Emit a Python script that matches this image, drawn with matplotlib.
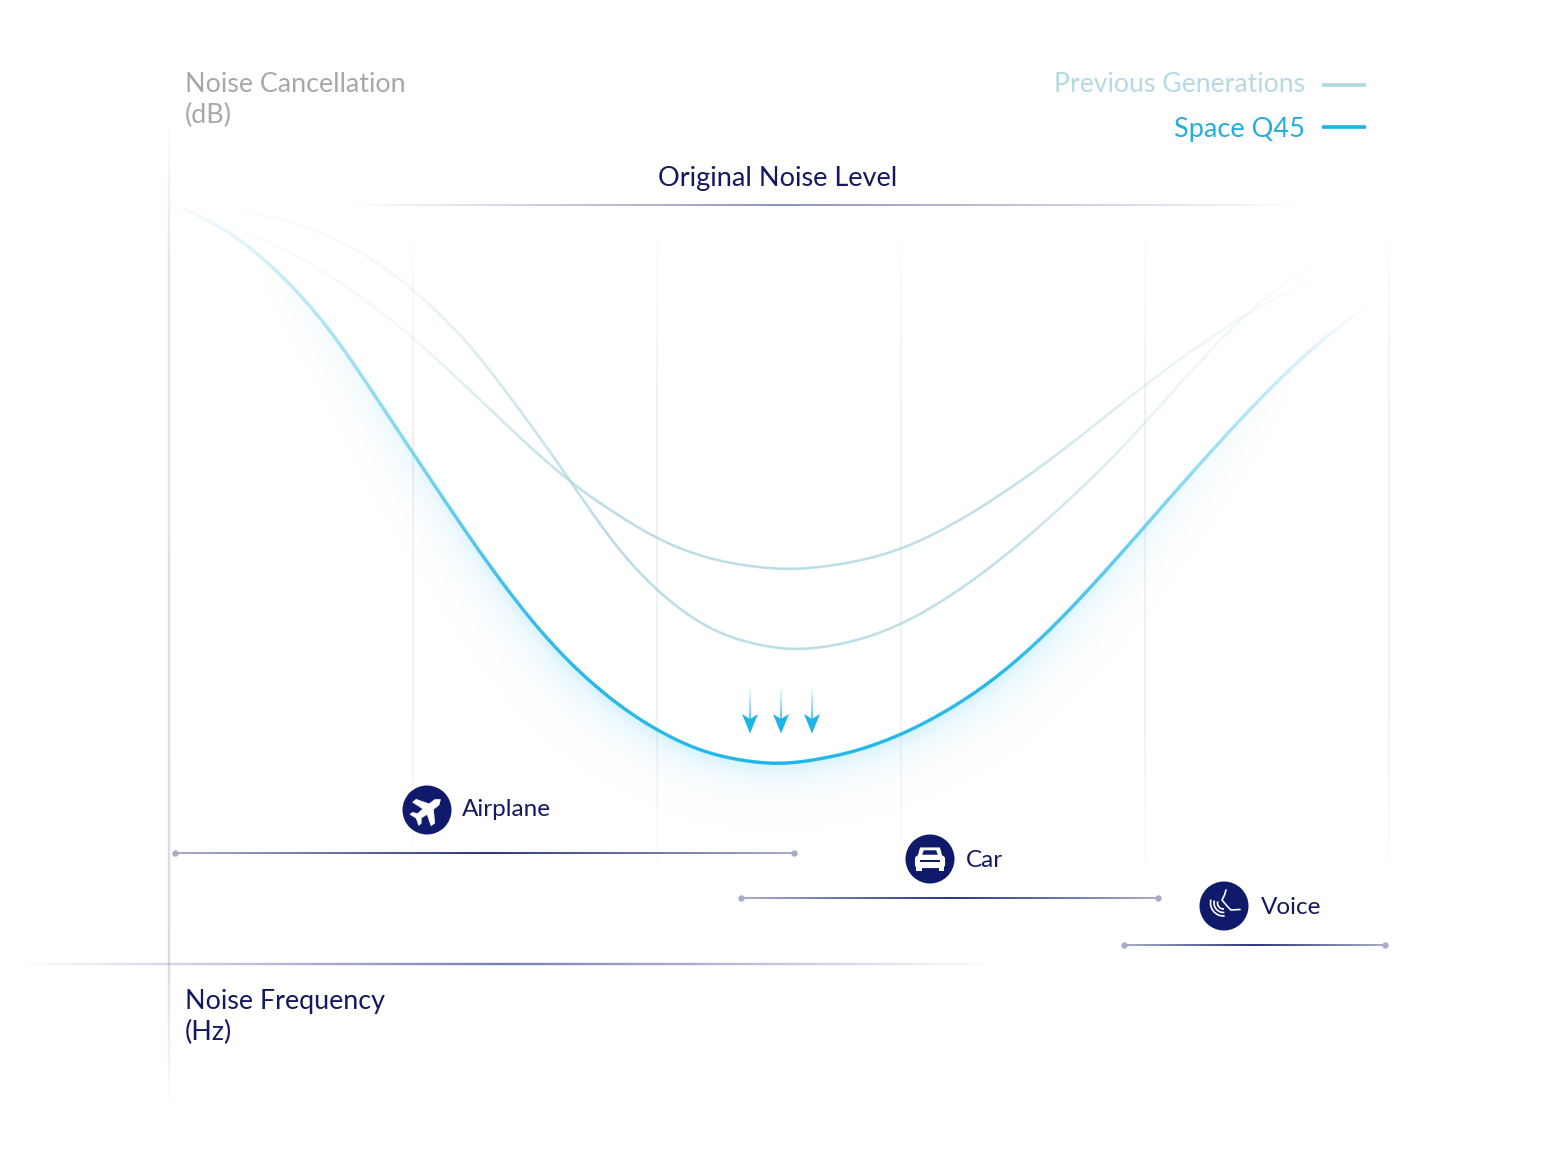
import matplotlib
matplotlib.use("Agg")
import matplotlib.pyplot as plt
import numpy as np
from matplotlib.collections import LineCollection
from matplotlib.colors import to_rgb
from matplotlib.patches import Circle, Polygon, FancyBboxPatch, Arc, Rectangle

plt.rcParams['font.family'] = ['Lato', 'DejaVu Sans']

NAVY = "#0f1a6b"
TEXT_NAVY = "#14185f"
CYAN = "#1cb5e6"
PALE = "#a9d5df"
LILAC = "#a9acc9"

# curves, in image pixels
q45_x = [180, 220, 253, 287, 320, 350, 383, 413, 443, 473, 507, 540, 573, 607, 640, 690, 723, 781, 853, 902, 937, 970, 1003, 1037, 1070, 1110, 1147, 1180, 1213, 1247, 1280, 1313, 1347, 1367]
q45_y = [207, 225, 248, 280, 315, 357, 408, 453, 498, 543, 590, 632, 667, 697, 721, 748, 758, 766, 753, 735, 717, 697, 673, 643, 610, 566, 524, 486, 449, 412, 378, 347, 320, 306]

prev_deep_x = [243, 303, 357, 413, 470, 542, 575, 607, 640, 657, 690, 723, 790, 853, 902, 937, 970, 1003, 1037, 1080, 1110, 1147, 1180, 1213, 1247, 1280, 1313, 1333]
prev_deep_y = [210, 225, 248, 288, 343, 440, 487, 537, 575, 592, 618, 637, 652, 643, 625, 605, 583, 558, 529, 490, 461, 421, 383, 347, 313, 285, 263, 250]

prev_shallow_x = [203, 253, 303, 357, 413, 470, 522, 575, 607, 657, 690, 723, 790, 853, 902, 937, 970, 1003, 1037, 1080, 1147, 1197, 1247, 1280, 1313]
prev_shallow_y = [217, 235, 258, 293, 337, 390, 440, 487, 508, 540, 553, 563, 571, 563, 550, 533, 515, 493, 470, 437, 383, 347, 313, 297, 280]

band_names = ["Airplane", "Car", "Voice"]
band_start = [175, 741, 1124]
band_end = [794, 1158, 1385]
band_y = [853, 898, 945]

grid_x = [413, 657, 901, 1145, 1389]
arrow_x = [750, 781, 812]


def smooth(xs, ys, sigma=22):
    # rounds off the reading noise between the points, x stays monotonic
    xs = np.asarray(xs, dtype=float)
    ys = np.asarray(ys, dtype=float)
    pad = 4 * sigma
    lead = (ys[1] - ys[0]) / (xs[1] - xs[0])
    tail = (ys[-1] - ys[-2]) / (xs[-1] - xs[-2])
    ex = np.concatenate([[xs[0] - pad], xs, [xs[-1] + pad]])
    ey = np.concatenate([[ys[0] - lead * pad], ys, [ys[-1] + tail * pad]])
    dense_x = np.arange(ex[0], ex[-1] + 1, 2.0)
    dense_y = np.interp(dense_x, ex, ey)
    k = np.arange(-pad, pad + 1, 2.0)
    kernel = np.exp(-k ** 2 / (2 * sigma ** 2))
    kernel /= kernel.sum()
    out = np.convolve(dense_y, kernel, mode='same')
    keep = (dense_x >= xs[0]) & (dense_x <= xs[-1])
    return np.column_stack([dense_x[keep], out[keep]])


def fade_line(ax, pts, color, width, stops, alphas, along=0, z=2):
    # line whose alpha changes along its length
    pts = np.asarray(pts, dtype=float)
    segs = np.stack([pts[:-1], pts[1:]], axis=1)
    mid = (pts[:-1, along] + pts[1:, along]) / 2
    a = np.interp(mid, stops, alphas)
    cols = np.zeros((len(segs), 4))
    cols[:, :3] = to_rgb(color)
    cols[:, 3] = a
    lc = LineCollection(segs, colors=cols, linewidths=width * 0.72, zorder=z, capstyle='butt')
    ax.add_collection(lc)


def straight(x0, y0, x1, y1, n=160):
    return np.column_stack([np.linspace(x0, x1, n), np.linspace(y0, y1, n)])


def draw_glow(ax, pts):
    # soft halo on the under side of the main curve
    yy, xx = np.mgrid[150:900, 150:1420]
    curve = np.interp(xx[0] + 0.5, pts[:, 0], pts[:, 1])
    slope = np.gradient(curve)
    cosn = 1 / np.sqrt(1 + slope ** 2)
    d = (yy + 0.5 - curve) * cosn
    strength = np.interp(xx[0] + 0.5, [250, 400, 560, 780, 1000, 1150, 1300], [0.0, 0.14, 0.24, 0.22, 0.24, 0.14, 0.0])
    alpha = strength * np.exp(-np.clip(d, 0, None) / 17.0)
    alpha[d < 0] = 0
    rgba = np.zeros(d.shape + (4,))
    rgba[..., :3] = to_rgb("#45c6ef")
    rgba[..., 3] = alpha
    ax.imshow(rgba, extent=(150, 1420, 900, 150), origin='upper', aspect='auto', zorder=2, interpolation='bilinear')


def draw_plane(ax, cx, cy):
    shape = np.array([(0, 17), (3.4, 12.5), (3.4, 5.5), (15, -2), (15, -6.5), (3.4, -2.5), (2.8, -9.5), (7, -13), (7, -16),
                      (0, -13.5), (-7, -16), (-7, -13), (-2.8, -9.5), (-3.4, -2.5), (-15, -6.5), (-15, -2), (-3.4, 5.5), (-3.4, 12.5)], dtype=float)
    ang = np.radians(-52)
    rot = np.array([[np.cos(ang), -np.sin(ang)], [np.sin(ang), np.cos(ang)]])
    pts = shape @ rot.T
    pts[:, 1] *= -1
    ax.add_patch(Polygon(pts + [cx, cy], closed=True, fc="white", ec="white", lw=0.5, joinstyle='round', zorder=6))


def draw_car(ax, cx, cy):
    ax.add_patch(FancyBboxPatch((cx - 14.5, cy - 3), 29, 11.5, boxstyle="round,pad=0,rounding_size=3", fc="white", ec="white", lw=0.8, zorder=6))
    ax.add_patch(Polygon([(cx - 12, cy - 2), (cx - 9.5, cy - 11), (cx + 9.5, cy - 11), (cx + 12, cy - 2)], closed=True, fc="white", ec="white", lw=0.8, zorder=6))
    ax.add_patch(Polygon([(cx - 7.5, cy - 4.5), (cx - 6, cy - 8.5), (cx + 6, cy - 8.5), (cx + 7.5, cy - 4.5)], closed=True, fc=NAVY, ec=NAVY, lw=0.3, zorder=7))
    ax.add_patch(Rectangle((cx - 10, cy + 1), 20, 2, fc=NAVY, ec="none", zorder=7))
    ax.add_patch(Rectangle((cx - 14, cy + 8), 5.5, 3.5, fc="white", ec="none", zorder=6))
    ax.add_patch(Rectangle((cx + 8.5, cy + 8), 5.5, 3.5, fc="white", ec="none", zorder=6))


def draw_voice(ax, cx, cy):
    ax.plot([cx + 2, cx + 0.5, cx - 2, cx + 3, cx + 7, cx + 16], [cy - 16, cy - 11, cy - 6, cy + 0, cy + 4, cy + 3.5], color="white", lw=1.2, zorder=6, solid_capstyle='round')
    for r in [6, 9.5, 13]:
        ax.add_patch(Arc((cx - 0.5, cy - 3), 2 * r, 2 * r, theta1=85, theta2=195, color="white", lw=1.2, zorder=6))


fig = plt.figure(figsize=(15.52, 11.64), dpi=100)
ax = fig.add_axes([0, 0, 1, 1])

# vertical guide lines
fade_line(ax, straight(169, 125, 169, 1105), "#d3d5e2", 2.4, [125, 260, 960, 1105], [0.05, 0.6, 0.9, 0.0], along=1, z=1)
for gx in grid_x:
    fade_line(ax, straight(gx, 215, gx, 890), "#d8dae4", 1.8, [215, 400, 720, 890], [0.0, 0.4, 0.4, 0.0], along=1, z=1)

# top and bottom reference lines
fade_line(ax, straight(350, 205, 1300, 205), "#7c80ae", 2, [350, 780, 1300], [0.0, 0.85, 0.0], z=1)
fade_line(ax, straight(20, 964, 990, 964), "#6a6fa3", 2.4, [20, 500, 990], [0.0, 0.9, 0.0], z=1)

# previous generations
q45_pts = smooth(q45_x, q45_y)
deep_pts = smooth(prev_deep_x, prev_deep_y)
shallow_pts = smooth(prev_shallow_x, prev_shallow_y)
stops = [200, 413, 500, 600, 1000, 1147, 1320]
fades = [0.0, 0.16, 0.52, 0.82, 0.75, 0.28, 0.0]
fade_line(ax, deep_pts, PALE, 2.6, stops, fades)
fade_line(ax, shallow_pts, PALE, 2.6, stops, fades)

draw_glow(ax, q45_pts)
fade_line(ax, q45_pts, CYAN, 3.4, [180, 250, 300, 413, 500, 600, 1000, 1147, 1250, 1313, 1367], [0.03, 0.15, 0.28, 0.55, 0.85, 1.0, 1.0, 0.6, 0.3, 0.15, 0.0], z=3)

# arrows
for a_x in arrow_x:
    fade_line(ax, straight(a_x, 686, a_x, 722), CYAN, 1.6, [686, 722], [0.0, 1.0], along=1, z=4)
    ax.add_patch(Polygon([(a_x - 8, 714), (a_x, 719), (a_x + 8, 714), (a_x, 733.5)], closed=True, fc=CYAN, ec="none", zorder=4))

# frequency bands
for x0, x1, y in zip(band_start, band_end, band_y):
    mid = (x0 + x1) / 2
    ax.plot([x0, x1], [y, y], color=LILAC, lw=1.4, zorder=3)
    fade_line(ax, straight(x0, y, x1, y), NAVY, 1.6, [x0, mid, x1], [0.0, 1.0, 0.0], z=3)
    ax.plot([x0, x1], [y, y], ls='none', marker='o', ms=4.6, color=LILAC, mec='none', zorder=4)

icon_x = [427, 930, 1224]
icon_y = [810, 859, 906]
label_x = [462, 966, 1261]
label_y = [816, 867, 914]
for name, cx, cy, lx, ly in zip(band_names, icon_x, icon_y, label_x, label_y):
    ax.add_patch(Circle((cx, cy), 24.5, fc=NAVY, ec="none", zorder=5))
    ax.text(lx, ly, name, color=TEXT_NAVY, fontsize=17.5, va='baseline', ha='left', zorder=6)
draw_plane(ax, icon_x[0], icon_y[0])
draw_car(ax, icon_x[1], icon_y[1])
draw_voice(ax, icon_x[2], icon_y[2])

# texts
ax.text(185, 92, "Noise Cancellation", color="#a6a8ac", fontsize=19.4, va='baseline')
ax.text(185, 123, "(dB)", color="#a6a8ac", fontsize=19.4, va='baseline')
ax.text(778, 186, "Original Noise Level", color=TEXT_NAVY, fontsize=19.5, va='baseline', ha='center')
ax.text(185, 1009, "Noise Frequency", color=TEXT_NAVY, fontsize=19.4, va='baseline')
ax.text(185, 1040, "(Hz)", color=TEXT_NAVY, fontsize=19.4, va='baseline')

# legend
ax.text(1305, 92, "Previous Generations", color="#b6dae3", fontsize=19.2, va='baseline', ha='right')
ax.text(1305, 137, "Space Q45", color="#23aedd", fontsize=19.5, va='baseline', ha='right')
ax.plot([1322, 1366], [85, 85], color="#b5d9e4", lw=2.6, solid_capstyle='butt')
ax.plot([1322, 1366], [127, 127], color="#1cb3e3", lw=2.6, solid_capstyle='butt')

ax.set_xlim(0, 1552)
ax.set_ylim(1164, 0)
ax.axis('off')

fig.savefig("out.png", dpi=100, facecolor="white")
